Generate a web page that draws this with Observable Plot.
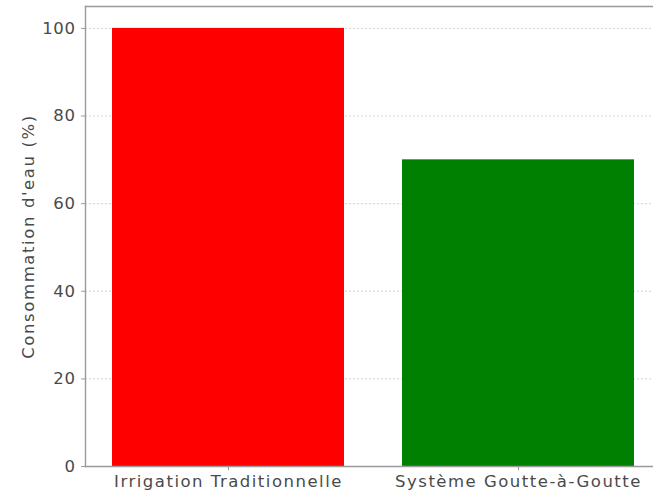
<!DOCTYPE html>
<html>
<head>
<meta charset="utf-8">
<script src="https://cdn.jsdelivr.net/npm/d3@7"></script>
<script src="https://cdn.jsdelivr.net/npm/@observablehq/plot@0.6"></script>
<style>
  html, body { margin: 0; padding: 0; background: #fff; overflow: hidden; }
  #chart { width: 653px; height: 492px; overflow: hidden; }
  #chart svg { display: block; max-width: none; }
  #chart g[aria-label="x-axis tick label"] text { letter-spacing: 1.5px; }
  #chart g[aria-label="y-axis tick label"] text { letter-spacing: 0.6px; }
  #chart g[aria-label="y-axis label"] text { letter-spacing: 1.6px; }
</style>
</head>
<body>
<div id="chart"></div>
<script>
// Water consumption by irrigation method (percentage of traditional use)
const methods = ["Irrigation Traditionnelle", "Système Goutte-à-Goutte"];
const consumption = [100, 70];
const barColors = ["#ff0000", "#008000"];
const yTicks = [0, 20, 40, 60, 80, 100];
const yLabel = "Consommation d'eau (%)";

const rows = methods.map((m, i) => ({method: m, value: consumption[i]}));

const font = "'DejaVu Sans', sans-serif";
const textColor = "#4a4a4a";
const axisColor = "#9a9a9a";

// The plot area runs slightly past the right edge of the container,
// so the right side of the box is cut off by the wrapper.
const chart = Plot.plot({
  width: 662,
  height: 492,
  marginLeft: 85,
  marginRight: 1,
  marginTop: 6,
  marginBottom: 26,
  style: {fontFamily: font, fontSize: "16.5px", color: textColor, background: "#fff"},
  x: {domain: methods, paddingInner: 0.2, paddingOuter: 0.09},
  y: {domain: [0, 105]},
  color: {domain: methods, range: barColors},
  marks: [
    Plot.gridY(yTicks, {stroke: "#c8c8c8", strokeOpacity: 1, strokeDasharray: "2,2", strokeWidth: 0.8}),
    Plot.barY(rows, {x: "method", y: "value", fill: "method"}),
    Plot.axisY({
      ticks: yTicks, tickSize: 4, tickPadding: 6, stroke: axisColor,
      label: yLabel, labelAnchor: "center", labelArrow: "none", labelOffset: 63,
      fill: textColor
    }),
    Plot.axisX({tickSize: 4, tickPadding: 5, stroke: axisColor, label: null, fill: textColor}),
    // box spines: left, top and bottom
    Plot.frame({anchor: "left", stroke: axisColor, strokeWidth: 1.4}),
    Plot.frame({anchor: "top", stroke: axisColor, strokeWidth: 1.6}),
    Plot.frame({anchor: "bottom", stroke: axisColor, strokeWidth: 1.4})
  ]
});

document.getElementById("chart").appendChild(chart);
</script>
</body>
</html>
